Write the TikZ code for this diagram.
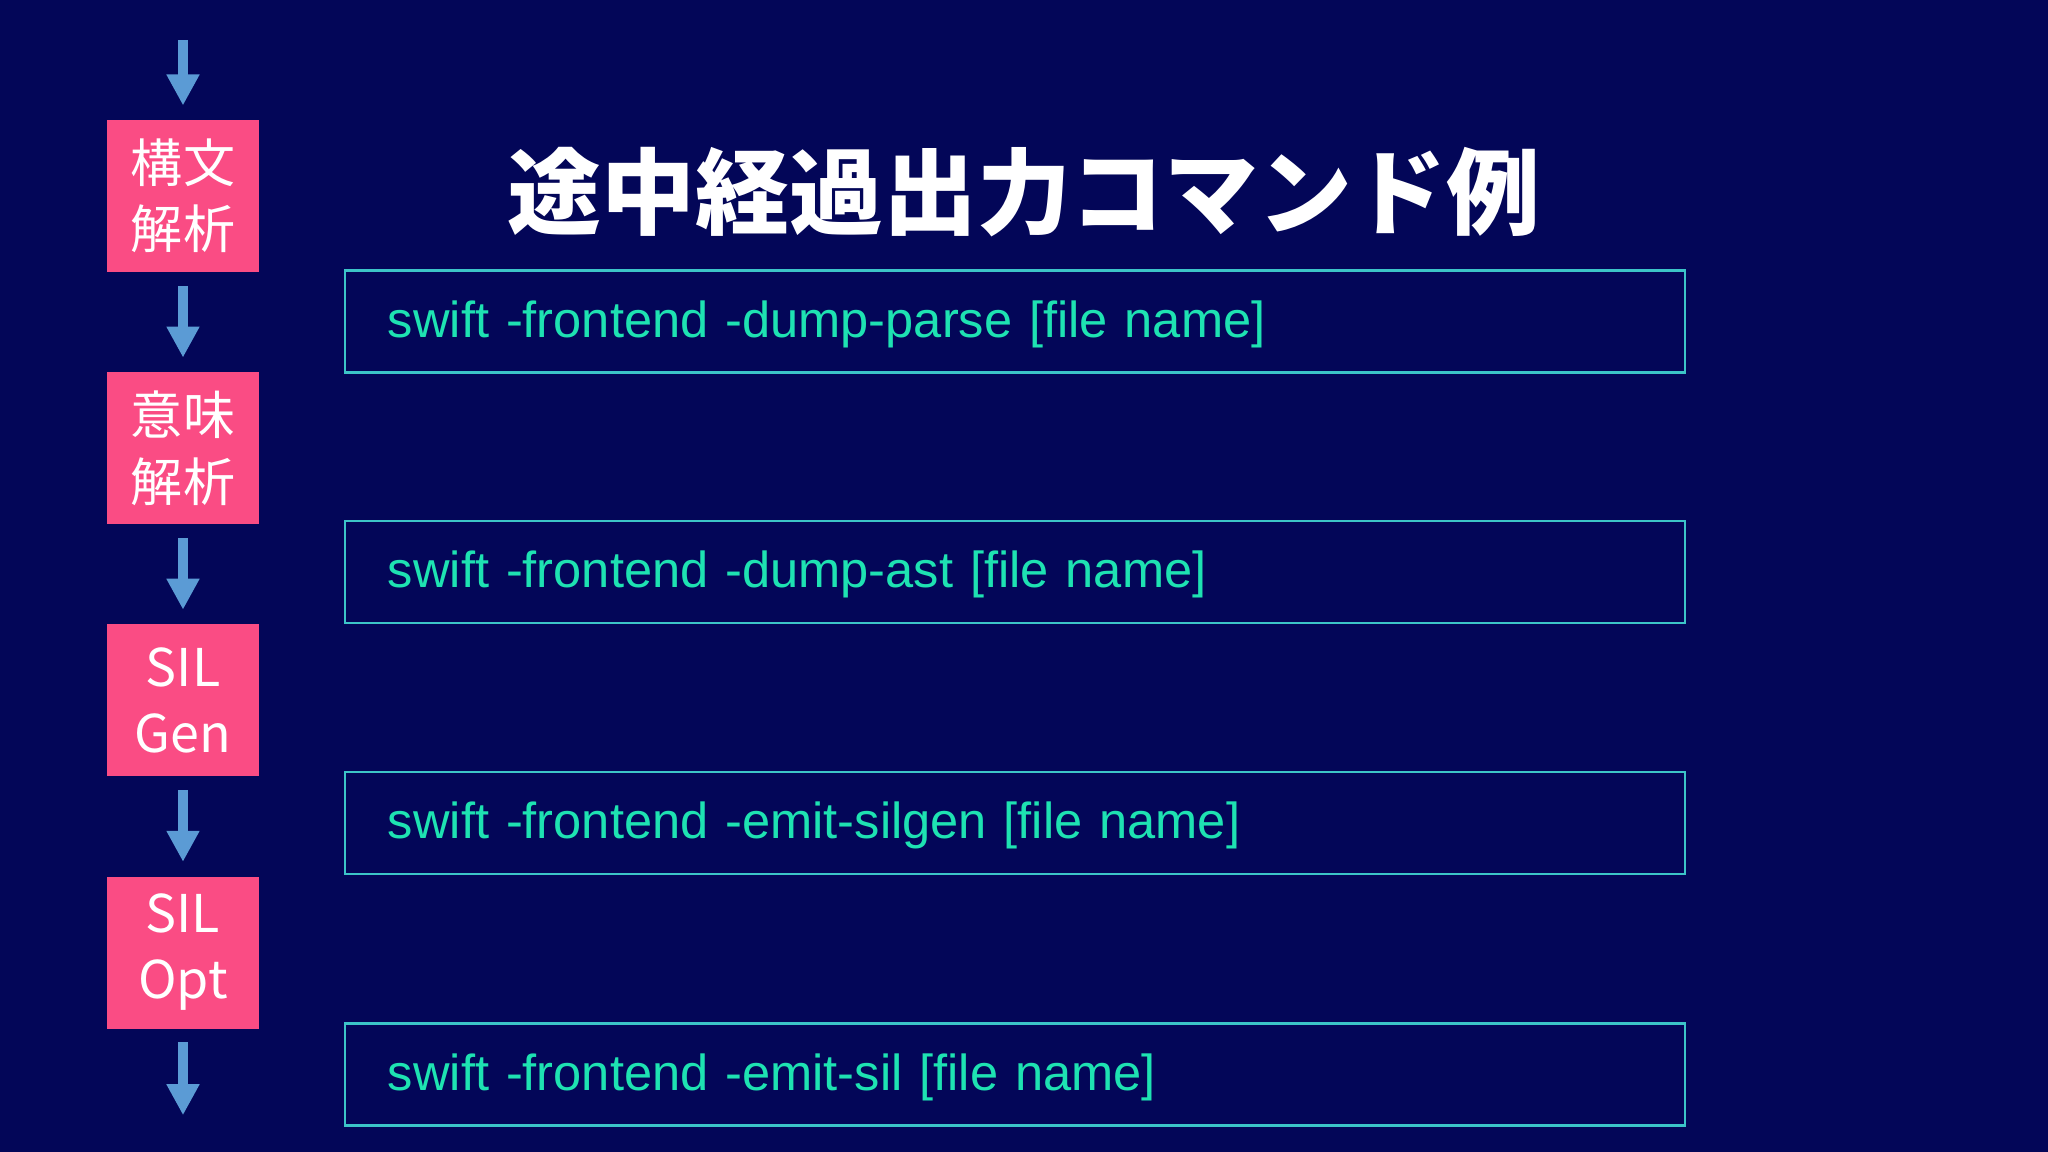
\documentclass[tikz,border=0pt]{standalone}
\usepackage{fontspec}
\setmainfont{Liberation Sans}
\newfontfamily\jpfont{Noto Sans CJK JP}
\usetikzlibrary{positioning, arrows.meta}
\definecolor{BackColor}{RGB}{3,6,88}
\definecolor{StageColor}{RGB}{250,76,132}
\definecolor{FlowColor}{RGB}{91,155,213}
\definecolor{CmdColor}{RGB}{30,226,178}
\definecolor{FrameColor}{RGB}{60,196,200}
\tikzstyle{stage} = [rectangle, fill=StageColor, minimum size=1.52cm, inner sep=0pt, align=center, text=white, font=\jpfont\fontsize{14.8}{18.8}\selectfont]
\tikzstyle{flow} = [FlowColor, line width=0.1cm, -{Triangle[width=0.31cm, length=0.31cm]}, shorten <=0.13cm, shorten >=0.14cm]
\tikzset{
  command/.style={rectangle, draw=FrameColor, line width=0.7pt, minimum height=1.02cm, text width=12.54cm, inner xsep=0.43cm, text height=0.42cm, text depth=0.10cm, align=left, text=CmdColor, font=\fontsize{14.4}{17}\selectfont},
  heading/.style={text=white, font=\jpfont\bfseries\fontsize{26.7}{30}\selectfont}
}
\begin{document}
\begin{tikzpicture}
                % Background
                \fill[BackColor] (0,0) rectangle (20.48,11.52);

                % Title
                \node[heading] (title) at (10.24,9.6) {途中経過出力コマンド例};

                % Compiler stages
                \node[stage] (parse) at (1.83,9.558) {構文\\解析};
                \node[stage, below=0.987cm of parse] (sema) {意味\\解析};
                \node[stage, below=0.987cm of sema] (silgen) {SIL\\Gen};
                \node[stage, below=0.987cm of silgen] (silopt) {SIL\\Opt};

                % Flow arrows
                \coordinate[above=0.92cm of parse] (source);
                \coordinate[below=1.0cm of silopt] (output);
                \draw[flow] (source) -- (parse);
                \draw[flow] (parse) -- (sema);
                \draw[flow] (sema) -- (silgen);
                \draw[flow] (silgen) -- (silopt);
                \draw[flow] (silopt) -- (output);

                % Commands
                \node[command] (dumpparse) at (10.15,8.307) {swift -frontend -dump-parse [file name]};
                \node[command] (dumpast) at (10.15,5.80) {swift -frontend -dump-ast [file name]};
                \node[command] (emitsilgen) at (10.15,3.292) {swift -frontend -emit-silgen [file name]};
                \node[command] (emitsil) at (10.15,0.777) {swift -frontend -emit-sil [file name]};
\end{tikzpicture}
\end{document}
